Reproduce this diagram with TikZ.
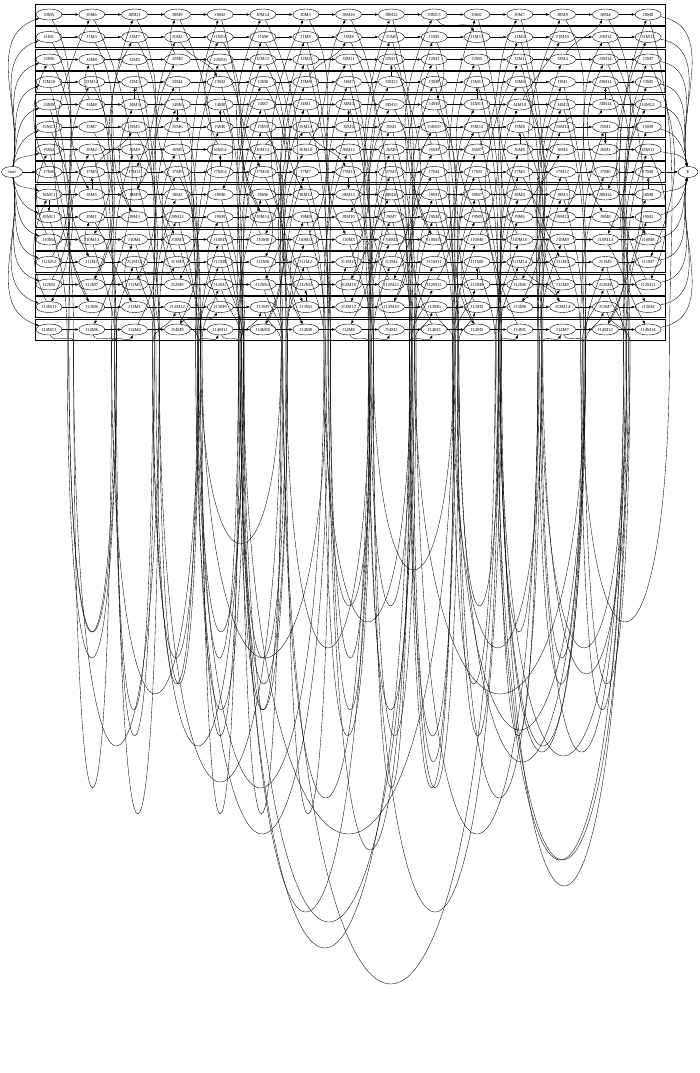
\documentclass[tikz,border=0pt]{standalone}
\usepackage{fontspec}
\setmainfont{Liberation Serif}
\usetikzlibrary{shapes.geometric,arrows.meta}

% machine edge between two operations of machine #3 (jobs #1 -> #2)
\newcommand{\mcedge}[3]{%
  \edef\ca{\csname cJ#1M#3\endcsname}%
  \edef\cb{\csname cJ#2M#3\endcsname}%
  \pgfmathtruncatemacro\dc{\cb-\ca}%
  \pgfmathtruncatemacro\dr{#2-#1}%
  \ifnum\dc=1
    \ifnum\dr>0 \draw[mc] (J#1M#3) to[out=-60,in=120] (J#2M#3);
    \else \draw[mc] (J#1M#3) to[out=60,in=-120] (J#2M#3); \fi
  \else\ifnum\dc=0
    \ifnum\dr=1 \draw[mc] (J#1M#3) -- (J#2M#3);
    \else\ifnum\dr=-1 \draw[mc] (J#1M#3) -- (J#2M#3);
    \else \draw[mc] (J#1M#3) to[bend left=25] (J#2M#3); \fi\fi
  \else
    \pgfmathsetmacro\gxa{49+42.8*\ca+21.4+1.6*(mod(#2,5)-2)}%
    \pgfmathsetmacro\gxb{49+42.8*\cb-21.4+1.6*(mod(#1,5)-2)}%
    \pgfmathsetmacro\dep{-342-min(715,140+62*abs(\dc)+26*mod(7*#1+3*#2+#3,9))/0.75}%
    \draw[mc] (J#1M#3) to[out=-75,in=90] (\gxa,-342)
      .. controls (\gxa,\dep) and (\gxb,\dep) .. (\gxb,-342)
      to[out=90,in=-110] (J#2M#3);
  \fi\fi}

\begin{document}
\begin{tikzpicture}[x=1pt,y=1pt,>={Triangle[length=3.2pt,width=2.4pt]},
    op/.style={ellipse,draw,line width=0.4pt,minimum width=26pt,
      minimum height=11pt,inner xsep=1pt,inner ysep=0.5pt,
      font=\fontsize{4.6}{5}\selectfont},
    mc/.style={->,line width=0.35pt}]
  \useasboundingbox (0,0) rectangle (700,-1073);

  % one cluster per job
  \foreach \j/\ms in {0/{5,6,11,9,2,14,3,10,12,13,1,7,8,4,0},
      1/{1,3,7,2,14,0,9,8,6,5,13,4,10,12,11},
      2/{6,8,0,9,10,12,2,11,13,3,5,1,4,14,7},
      3/{10,12,3,4,2,0,8,7,13,9,11,6,1,14,5},
      4/{9,8,3,6,0,7,1,4,13,5,11,10,2,14,12},
      5/{11,7,5,6,0,3,13,4,2,10,12,8,14,1,9},
      6/{4,2,9,5,14,13,10,12,0,3,7,8,6,1,11},
      7/{6,5,11,9,14,10,7,13,1,4,2,3,12,0,8},
      8/{11,5,9,2,0,6,12,13,10,1,7,4,3,14,8},
      9/{11,1,3,13,9,14,0,10,7,4,5,6,12,8,2},
      10/{4,12,1,7,5,0,11,3,2,13,6,10,9,14,8},
      11/{12,1,10,5,8,6,2,13,4,11,0,14,3,9,7},
      12/{2,7,5,9,1,14,3,10,13,12,0,6,8,4,11},
      13/{11,6,1,12,9,5,3,13,10,0,2,8,14,7,4},
      14/{13,6,4,9,11,10,0,8,2,3,5,1,7,12,14}}{
    \draw[line width=0.4pt] (35,{-4-22.5*\j}) rectangle (665,{-25-22.5*\j});
    \foreach \m [count=\c from 0] in \ms {
      \node[op,alias=op\j-\c] (J\j M\m) at ({49+42.8*\c},{-14.5-22.5*\j}) {J\j M\m};
      \expandafter\xdef\csname cJ\j M\m\endcsname{\c}
    }
  }

  \node[op,minimum width=21pt] (start) at (12,-172) {start};
  \node[op,minimum width=20pt] (E) at (688,-172) {E};

  % job order
  \foreach \j in {0,...,14}{
    \foreach \c [evaluate=\c as \n using int(\c+1)] in {0,...,13}
      \draw[mc] (op\j-\c) -- (op\j-\n);
    \ifnum\j<7
      \draw[mc] (start) to[out=80,in=-160] (op\j-0);
      \draw[mc] (op\j-14) to[out=-10,in=100] (E);
    \else\ifnum\j>7
      \draw[mc] (start) to[out=-80,in=160] (op\j-0);
      \draw[mc] (op\j-14) to[out=10,in=-100] (E);
    \else
      \draw[mc] (start) -- (op\j-0);
      \draw[mc] (op\j-14) -- (E);
    \fi\fi
  }

  % machine order
  \foreach \m/\seq in {0/{2,5,4,8,13,1,10,3,14,9,6,12,11,0,7},
      1/{1,11,9,13,10,4,12,7,0,3,8,14,2,5,6},
      2/{12,6,8,1,3,11,0,2,14,10,5,4,13,7,9},
      3/{1,9,4,3,5,13,12,0,10,14,6,2,8,7,11},
      4/{10,6,14,3,5,4,9,11,7,8,1,12,2,0,13},
      5/{0,8,7,5,12,11,6,13,10,1,4,14,9,2,3},
      6/{7,2,13,0,14,4,5,8,11,1,10,3,12,9,6},
      7/{5,12,1,10,4,3,7,9,6,0,8,13,14,2,11},
      8/{4,2,11,3,1,14,6,5,13,12,0,9,10,8,7},
      9/{4,6,8,2,0,12,7,14,13,9,1,3,11,10,5},
      10/{3,11,2,7,14,6,0,9,12,8,13,5,10,4,1},
      11/{5,13,8,9,0,7,14,10,2,11,4,3,6,12,1},
      12/{11,3,10,13,2,8,0,6,12,5,7,9,1,14,4},
      13/{14,9,6,5,7,8,13,11,3,2,12,4,10,0,1},
      14/{7,6,1,9,0,12,11,13,5,4,3,8,2,10,14}}{
    \foreach \cj [remember=\cj as \pj (initially -1)] in \seq {
      \ifnum\pj>-1 \mcedge{\pj}{\cj}{\m}\fi
    }
  }
\end{tikzpicture}
\end{document}
